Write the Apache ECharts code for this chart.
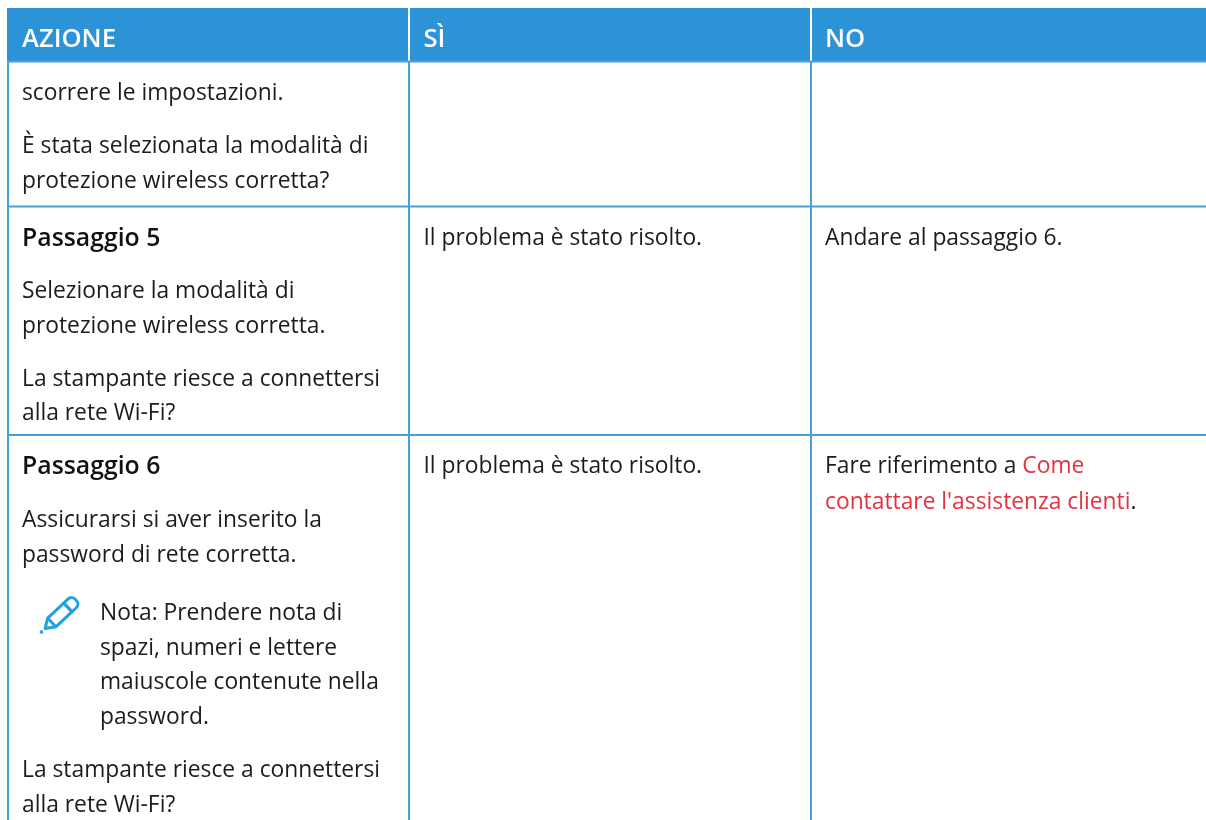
<!DOCTYPE html>
<html>
<head>
<meta charset="utf-8">
<style>
  html, body { margin: 0; padding: 0; background: #fff; }
  #main { width: 1206px; height: 820px; }
</style>
<script src="https://cdn.jsdelivr.net/npm/echarts@6/dist/echarts.min.js"></script>
</head>
<body>
<div id="main"></div>
<script>
// contenuto della tabella
const headers = ['AZIONE', 'SÌ', 'NO'];
const azioneLines = [
  'scorrere le impostazioni.',
  'È stata selezionata la modalità di',
  'protezione wireless corretta?',
  '{b|Passaggio 5}',
  'Selezionare la modalità di',
  'protezione wireless corretta.',
  'La stampante riesce a connettersi',
  'alla rete Wi-Fi?',
  '{b|Passaggio 6}',
  'Assicurarsi si aver inserito la',
  'password di rete corretta.',
  'La stampante riesce a connettersi',
  'alla rete Wi-Fi?'
];
const notaLines = [
  'Nota: Prendere nota di',
  'spazi, numeri e lettere',
  'maiuscole contenute nella',
  'password.'
];
const siLines = ['Il problema è stato risolto.', 'Il problema è stato risolto.'];
const noLines = [
  'Andare al passaggio 6.',
  'Fare riferimento a {link|Come}',
  "{link|contattare l'assistenza clienti}."
];

// posizioni (misurate sull'immagine)
const FONT = '"Open Sans"';
const SIZE = 22.8;
const BOLD_SIZE = 24.8;
const HEAD_SIZE = 25.6;
const columnX = [8, 409, 811, 1206];
const textX = [22, 423.5, 825];
const headerTop = 8;
const headerTextY = 40;
const rowLineY = [61.5, 206.5, 435];
const azioneY = [94, 147, 182, 239, 292, 327, 380, 414, 467, 521, 556, 771, 806];
const notaY = [614, 649, 683, 718];
const notaX = 100;
const siY = [239, 467];
const noY = [239, 467, 503];

const INK = '#1c1c1c';
const BLUE = '#2b93d6';
const LINE = '#46a1da';
const richStyles = {
  b: { font: '600 ' + BOLD_SIZE + 'px ' + FONT, fill: '#111' },
  link: { font: SIZE + 'px ' + FONT, fill: '#e5323f' }
};

function textItem(x, y, text) {
  return {
    type: 'text',
    z: 5,
    style: { x: x, y: y, text: text, font: SIZE + 'px ' + FONT, fill: INK, verticalAlign: 'middle', rich: richStyles }
  };
}

function vLine(x, y1, y2, color) {
  return { type: 'line', z: 3, shape: { x1: x, y1: y1, x2: x, y2: y2 }, style: { stroke: color, lineWidth: 2 } };
}

function hLine(y) {
  return { type: 'line', z: 3, shape: { x1: columnX[0], y1: y, x2: columnX[3], y2: y }, style: { stroke: LINE, lineWidth: 2 } };
}

// icona della matita
function pencil() {
  const s = { fill: 'none', stroke: '#1fa3e0', lineWidth: 3, lineJoin: 'round' };
  return {
    type: 'group',
    x: 41.5,
    y: 632,
    rotation: Math.PI / 180 * 43,
    z: 6,
    children: [
      { type: 'circle', shape: { cx: 0, cy: 0, r: 1.8 }, style: { fill: '#1fa3e0' } },
      { type: 'polygon', shape: { points: [[5, 0], [14, -6], [36, -6], [36, 6], [14, 6]] }, style: s },
      { type: 'line', shape: { x1: 14, y1: -6, x2: 14, y2: 6 }, style: s },
      { type: 'rect', shape: { x: 36, y: -6, width: 11, height: 12, r: [0, 5, 5, 0] }, style: s }
    ]
  };
}

const elements = [];
// intestazione
elements.push({
  type: 'rect', z: 1,
  shape: { x: columnX[0] - 1, y: headerTop, width: columnX[3] - columnX[0] + 1, height: rowLineY[0] - headerTop },
  style: { fill: BLUE }
});
headers.forEach((h, i) => {
  elements.push({
    type: 'text', z: 5,
    style: { x: textX[i], y: headerTextY, text: h, font: '600 ' + HEAD_SIZE + 'px ' + FONT, fill: '#fff', verticalAlign: 'middle' }
  });
});
// griglia
[1, 2].forEach(i => elements.push(vLine(columnX[i], headerTop, rowLineY[0], '#fff')));
[0, 1, 2].forEach(i => elements.push(vLine(columnX[i], rowLineY[0], 820, LINE)));
rowLineY.forEach(y => elements.push(hLine(y)));
// testi
azioneLines.forEach((t, i) => elements.push(textItem(textX[0], azioneY[i], t)));
notaLines.forEach((t, i) => elements.push(textItem(notaX, notaY[i], t)));
siLines.forEach((t, i) => elements.push(textItem(textX[1], siY[i], t)));
noLines.forEach((t, i) => elements.push(textItem(textX[2], noY[i], t)));
elements.push(pencil());

const chart = echarts.init(document.getElementById('main'), null, { renderer: 'canvas' });
chart.setOption({ animation: false, backgroundColor: '#fff', graphic: { elements: elements } });
</script>
</body>
</html>
